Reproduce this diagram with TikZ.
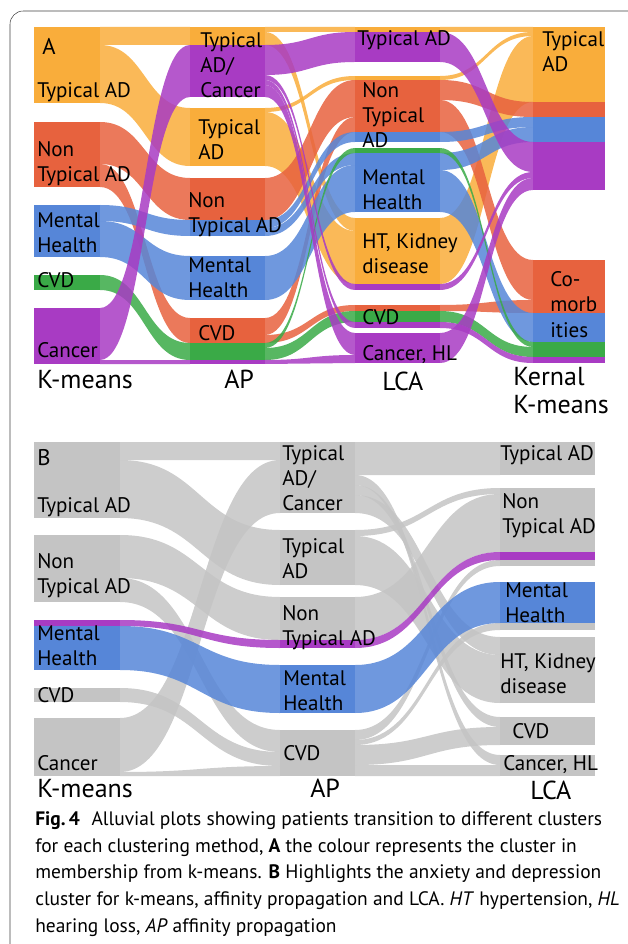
\documentclass[tikz,border=0pt]{standalone}
\usepackage{fontspec}
\setmainfont{PT Sans}
\usepackage{tikz}

\definecolor{kmO}{HTML}{F9AD3B}
\definecolor{kmR}{HTML}{E7623E}
\definecolor{kmB}{HTML}{5686D8}
\definecolor{kmG}{HTML}{3AAA47}
\definecolor{kmP}{HTML}{A83BC3}
\definecolor{kmGray}{HTML}{C4C4C4}

% band between two columns: x1, top1, bottom1, x2, top2, bottom2, colour
\newcommand{\band}[7]{%
  \fill[#7,fill opacity=0.85] (#1,#2) .. controls ({(#1+#4)/2},#2) and ({(#1+#4)/2},#5) .. (#4,#5)
    -- (#4,#6) .. controls ({(#1+#4)/2},#6) and ({(#1+#4)/2},#3) .. (#1,#3) -- cycle;}
% piece of a column: x1, x2, top, bottom, colour
\newcommand{\seg}[5]{\fill[#5] (#1,#3) rectangle (#2,#4);}

\begin{document}
\begin{tikzpicture}[x=0.75pt,y=-0.75pt]
	\useasboundingbox (0,0) rectangle (627,944);
	\tikzset{lab/.style={anchor=base west,align=left,inner sep=0pt,font=\fontsize{15.8}{18.75}\selectfont},
		axis/.style={anchor=base west,align=left,inner sep=0pt,font=\fontsize{19.5}{21}\selectfont}} % base = last line
	\draw[black!75,rounded corners=10] (10,950) -- (10,11) -- (630,11); %frame

	% panel A, columns
	\seg{34}{100}{27}{103}{kmO} \seg{34}{100}{122}{187}{kmR} \seg{34}{100}{205}{257}{kmB}
	\seg{34}{100}{275}{290}{kmG} \seg{34}{100}{308}{364}{kmP}
	\seg{190}{265}{27}{45}{kmO} \seg{190}{265}{45}{97}{kmP} \seg{190}{265}{108}{166}{kmO}
	\seg{190}{265}{178}{220}{kmR} \seg{190}{265}{220}{236}{kmB} \seg{190}{265}{256}{300}{kmB}
	\seg{190}{265}{318}{343}{kmR} \seg{190}{265}{343}{360}{kmG} \seg{190}{265}{360}{364}{kmP}
	\seg{355}{440}{27}{32}{kmO} \seg{355}{440}{32}{62}{kmP} \seg{355}{440}{76}{80}{kmO}
	\seg{355}{440}{80}{132}{kmR} \seg{355}{440}{132}{142}{kmB} \seg{355}{440}{148}{153}{kmG}
	\seg{355}{440}{153}{212}{kmB} \seg{355}{440}{218}{284}{kmO} \seg{355}{440}{284}{290}{kmP}
	\seg{355}{440}{305}{311}{kmR} \seg{355}{440}{311}{322}{kmG} \seg{355}{440}{322}{328}{kmP}
	\seg{355}{440}{333}{363}{kmP}
	\seg{533}{605}{27}{102}{kmO} \seg{533}{605}{102}{117}{kmR} \seg{533}{605}{117}{142}{kmB}
	\seg{533}{605}{142}{190}{kmP} \seg{533}{605}{260}{313}{kmR} \seg{533}{605}{313}{342}{kmB}
	\seg{533}{605}{342}{357}{kmG} \seg{533}{605}{357}{363}{kmP}

	% panel A, K-means to AP
	\band{100}{27}{45}{190}{27}{45}{kmO}
	\band{100}{45}{103}{190}{108}{166}{kmO}
	\band{100}{122}{164}{190}{178}{220}{kmR}
	\band{100}{164}{187}{190}{318}{343}{kmR}
	\band{100}{205}{221}{190}{220}{236}{kmB}
	\band{100}{221}{257}{190}{256}{300}{kmB}
	\band{100}{275}{290}{190}{343}{360}{kmG}
	\band{100}{308}{360}{190}{45}{97}{kmP}
	\band{100}{360}{364}{190}{360}{364}{kmP}
	% AP to LCA
	\band{265}{27}{32}{355}{27}{32}{kmO}
	\band{265}{32}{45}{355}{218}{231}{kmO}
	\band{265}{108}{112}{355}{76}{80}{kmO}
	\band{265}{112}{166}{355}{231}{284}{kmO}
	\band{265}{178}{220}{355}{80}{117}{kmR}
	\band{265}{318}{335}{355}{117}{132}{kmR}
	\band{265}{335}{343}{355}{305}{311}{kmR}
	\band{265}{220}{228}{355}{132}{142}{kmB}
	\band{265}{228}{236}{355}{153}{165}{kmB}
	\band{265}{256}{300}{355}{165}{212}{kmB}
	\band{265}{343}{348}{355}{148}{153}{kmG}
	\band{265}{348}{360}{355}{311}{322}{kmG}
	\band{265}{45}{75}{355}{32}{62}{kmP}
	\band{265}{75}{80}{355}{284}{290}{kmP}
	\band{265}{80}{85}{355}{322}{328}{kmP}
	\band{265}{85}{97}{355}{333}{355}{kmP}
	\band{265}{360}{364}{355}{355}{363}{kmP}
	% LCA to kernel k-means
	\band{440}{27}{32}{533}{27}{32}{kmO}
	\band{440}{76}{80}{533}{32}{36}{kmO}
	\band{440}{218}{284}{533}{36}{102}{kmO}
	\band{440}{80}{100}{533}{102}{117}{kmR}
	\band{440}{100}{132}{533}{260}{300}{kmR}
	\band{440}{305}{311}{533}{300}{313}{kmR}
	\band{440}{132}{142}{533}{117}{127}{kmB}
	\band{440}{153}{170}{533}{127}{142}{kmB}
	\band{440}{170}{212}{533}{313}{342}{kmB}
	\band{440}{148}{153}{533}{342}{347}{kmG}
	\band{440}{311}{322}{533}{347}{357}{kmG}
	\band{440}{32}{62}{533}{142}{172}{kmP}
	\band{440}{284}{290}{533}{172}{178}{kmP}
	\band{440}{333}{363}{533}{178}{190}{kmP}
	\band{440}{322}{328}{533}{357}{363}{kmP}

	% panel A, labels
	\node[lab,font=\fontsize{17}{20}\selectfont] (panA) at (42,55) {A};
	\node[lab] (kmA-typ) at (37,98) {Typical AD};
	\node[lab] (kmA-non) at (37,182) {Non\\Typical AD};
	\node[lab] (kmA-men) at (37,253) {Mental\\Health};
	\node[lab] (kmA-cvd) at (37,288) {CVD};
	\node[lab] (kmA-can) at (37,358) {Cancer};
	\node[axis] (kmA) at (37,388) {K-means};
	\node[lab] (apA-tc) at (200,98) {Typical\\AD/\\Cancer};
	\node[lab] (apA-typ) at (198,160) {Typical\\AD};
	\node[lab] (apA-non) at (188,233) {Non\\Typical AD};
	\node[lab] (apA-men) at (188,298) {Mental\\Health};
	\node[lab] (apA-cvd) at (198,340) {CVD};
	\node[axis] (apA) at (224,388) {AP};
	\node[lab] (lcaA-typ) at (357,46) {Typical AD};
	\node[lab] (lcaA-non) at (362,148) {Non\\Typical\\AD};
	\node[lab] (lcaA-men) at (362,210) {Mental\\Health};
	\node[lab] (lcaA-ht) at (362,274) {HT, Kidney\\disease};
	\node[lab] (lcaA-cvd) at (362,325) {CVD};
	\node[lab] (lcaA-can) at (362,360) {Cancer, HL};
	\node[axis] (lcaA) at (382,390) {LCA};
	\node[lab] (kkA-typ) at (542,72) {Typical\\AD};
	\node[lab] (kkA-com) at (550,337) {Co-\\morb\\ities};
	\node[axis] (kkA) at (513,413) {Kernal\\K-means};

	% panel B, columns
	\seg{34}{120}{442}{518}{kmGray} \seg{34}{120}{535}{602}{kmGray} \seg{34}{120}{620}{626}{kmP}
	\seg{34}{120}{626}{670}{kmB} \seg{34}{120}{688}{702}{kmGray} \seg{34}{120}{718}{776}{kmGray}
	\seg{280}{355}{442}{513}{kmGray} \seg{280}{355}{530}{585}{kmGray} \seg{280}{355}{597}{640}{kmGray}
	\seg{280}{355}{640}{648}{kmP} \seg{280}{355}{665}{713}{kmB} \seg{280}{355}{730}{776}{kmGray}
	\seg{500}{595}{442}{475}{kmGray} \seg{500}{595}{488}{552}{kmGray} \seg{500}{595}{552}{560}{kmP}
	\seg{500}{595}{560}{566}{kmGray} \seg{500}{595}{582}{623}{kmB} \seg{500}{595}{623}{630}{kmGray}
	\seg{500}{595}{637}{703}{kmGray} \seg{500}{595}{717}{745}{kmGray} \seg{500}{595}{755}{776}{kmGray}

	% panel B, grey flows
	\band{120}{442}{460}{280}{442}{460}{kmGray}
	\band{120}{460}{518}{280}{530}{585}{kmGray}
	\band{120}{535}{578}{280}{597}{640}{kmGray}
	\band{120}{578}{602}{280}{730}{752}{kmGray}
	\band{120}{688}{702}{280}{752}{766}{kmGray}
	\band{120}{718}{772}{280}{460}{513}{kmGray}
	\band{120}{772}{776}{280}{766}{776}{kmGray}
	\band{355}{442}{475}{500}{442}{475}{kmGray}
	\band{355}{475}{485}{500}{755}{765}{kmGray}
	\band{355}{485}{495}{500}{717}{727}{kmGray}
	\band{355}{495}{513}{500}{637}{655}{kmGray}
	\band{355}{530}{536}{500}{488}{494}{kmGray}
	\band{355}{536}{585}{500}{655}{703}{kmGray}
	\band{355}{597}{640}{500}{494}{552}{kmGray}
	\band{355}{730}{740}{500}{560}{566}{kmGray}
	\band{355}{740}{745}{500}{623}{630}{kmGray}
	\band{355}{745}{765}{500}{727}{745}{kmGray}
	\band{355}{765}{776}{500}{765}{776}{kmGray}
	% highlighted cluster
	\band{120}{620}{626}{280}{640}{648}{kmP}
	\band{120}{626}{670}{280}{665}{713}{kmB}
	\band{355}{640}{648}{500}{552}{560}{kmP}
	\band{355}{665}{713}{500}{582}{623}{kmB}

	% panel B, labels
	\node[lab,font=\fontsize{17}{20}\selectfont] (panB) at (37,465) {B};
	\node[lab] (kmB-typ) at (37,512) {Typical AD};
	\node[lab] (kmB-non) at (37,593) {Non\\Typical AD};
	\node[lab] (kmB-men) at (37,665) {Mental\\Health};
	\node[lab] (kmB-cvd) at (37,702) {CVD};
	\node[lab] (kmB-can) at (37,770) {Cancer};
	\node[axis] (kmB) at (37,797) {K-means};
	\node[lab] (apB-tc) at (282,510) {Typical\\AD/\\Cancer};
	\node[lab] (apB-typ) at (282,578) {Typical\\AD};
	\node[lab] (apB-non) at (282,645) {Non\\Typical AD};
	\node[lab] (apB-men) at (283,710) {Mental\\Health};
	\node[lab] (apB-cvd) at (283,760) {CVD};
	\node[axis] (apB) at (310,797) {AP};
	\node[lab] (lcaB-typ) at (500,460) {Typical AD};
	\node[lab] (lcaB-non) at (502,533) {Non\\Typical AD};
	\node[lab] (lcaB-men) at (505,622) {Mental\\Health};
	\node[lab] (lcaB-ht) at (500,693) {HT, Kidney\\disease};
	\node[lab] (lcaB-cvd) at (512,738) {CVD};
	\node[lab] (lcaB-can) at (503,770) {Cancer, HL};
	\node[axis] (lcaB) at (530,799) {LCA};

	% caption
	\node[anchor=base west,align=left,inner sep=0pt,font=\fontsize{14.6}{20}\selectfont] (caption) at (35,932)
		{\textbf{Fig.\,4}\hspace{0.6em}Alluvial plots showing patients transition to different clusters\\
		for each clustering method, \textbf{A} the colour represents the cluster in\\
		membership from k-means. \textbf{B} Highlights the anxiety and depression\\
		cluster for k-means, affinity propagation and LCA. \textit{HT} hypertension, \textit{HL}\\
		hearing loss, \textit{AP} affinity propagation};
\end{tikzpicture}
\end{document}
